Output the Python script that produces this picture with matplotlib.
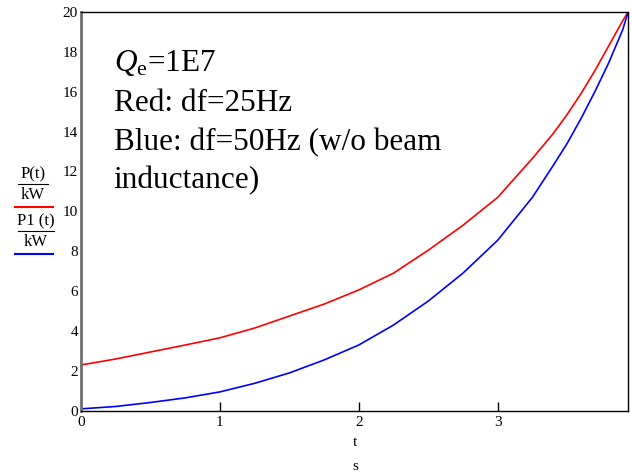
import numpy as np
import matplotlib
matplotlib.use("Agg")
import matplotlib.pyplot as plt
from matplotlib.lines import Line2D

# values (t in s, power in kW)
t = [0, 0.25, 0.5, 0.75, 1.0, 1.25, 1.5, 1.75, 2.0, 2.25, 2.5, 2.75, 3.0,
     3.25, 3.4, 3.5, 3.6, 3.7, 3.8, 3.9, 3.94]
p_red = [2.3, 2.6, 2.95, 3.3, 3.66, 4.15, 4.75, 5.35, 6.06, 6.9, 8.05, 9.3, 10.7,
         12.65, 13.9, 14.85, 15.9, 17.05, 18.3, 19.55, 20.0]
p_blue = [0.1, 0.22, 0.42, 0.65, 0.95, 1.38, 1.9, 2.55, 3.3, 4.3, 5.5, 6.9, 8.55,
          10.7, 12.3, 13.4, 14.65, 16.0, 17.45, 19.1, 20.0]

xticks = [0, 1, 2, 3]
yticks = [0, 2, 4, 6, 8, 10, 12, 14, 16, 18, 20]

plt.rcParams['font.family'] = ['Liberation Serif', 'DejaVu Serif']
plt.rcParams['mathtext.fontset'] = 'custom'
plt.rcParams['mathtext.rm'] = 'Liberation Serif'
plt.rcParams['mathtext.it'] = 'Liberation Serif:italic'

fig = plt.figure(figsize=(6.32, 4.75), dpi=100)
ax = fig.add_axes([0.128, 0.135, 0.866, 0.84])

ax.plot(t, p_red, color='#ff0000', lw=1.2)
ax.plot(t, p_blue, color='#0000ff', lw=1.2)

ax.set_xlim(0, 3.94)
ax.set_ylim(0, 20)
ax.set_xticks(xticks)
ax.set_yticks(yticks)
ax.tick_params(axis='both', direction='in', length=6.5, width=1, labelsize=11, colors='black')
ax.tick_params(axis='y', right=True, pad=2)
ax.tick_params(axis='x', pad=4)
# no tick marks at the ends (0 and 20), like the reference
for tk in ax.yaxis.get_major_ticks():
    if tk.get_loc() in (0, 20):
        tk.tick1line.set_visible(False)
        tk.tick2line.set_visible(False)
ax.xaxis.get_major_ticks()[0].tick1line.set_visible(False)

for s in ['top', 'right', 'bottom']:
    ax.spines[s].set_linewidth(1)
    ax.spines[s].set_color('black')
ax.spines['left'].set_color('#707070')
ax.spines['left'].set_linewidth(2)

# annotation block
fs = 22.5
x0 = 0.235
ax.text(x0, 17.03, r'$\mathit{Q}_{\mathrm{e}}$=1E7', fontsize=fs, va='baseline')
ax.text(x0, 15.03, 'Red: df=25Hz', fontsize=fs, va='baseline')
ax.text(x0, 13.07, 'Blue: df=50Hz (w/o beam', fontsize=fs, va='baseline')
ax.text(x0, 11.17, 'inductance)', fontsize=fs, va='baseline')

def px(x, y):
    return x / 632, 1 - y / 475

# x axis label stacked as t / s
fig.text(*px(355, 443), 't', ha='center', va='center', fontsize=11)
fig.text(*px(355, 466), 's', ha='center', va='center', fontsize=11)

# y axis legend-like label: P(t)/kW and P1(t)/kW
for num, y0, xc, col in [('P(t)', 174, 33, '#ff0000'), ('P1 (t)', 221, 36, '#0000ff')]:
    fig.text(*px(xc, y0), num, ha='center', va='center', fontsize=12)
    fig.add_artist(Line2D([px(18, 0)[0], px(2 * xc - 18, 0)[0]], [px(0, y0 + 10)[1]] * 2,
                          color='black', lw=0.8))
    fig.text(*px(xc, y0 + 21), 'kW', ha='center', va='center', fontsize=12)
    fig.add_artist(Line2D([px(15, 0)[0], px(53, 0)[0]], [px(0, y0 + 33)[1]] * 2,
                          color=col, lw=1.5))

fig.savefig('out.png', dpi=100)
